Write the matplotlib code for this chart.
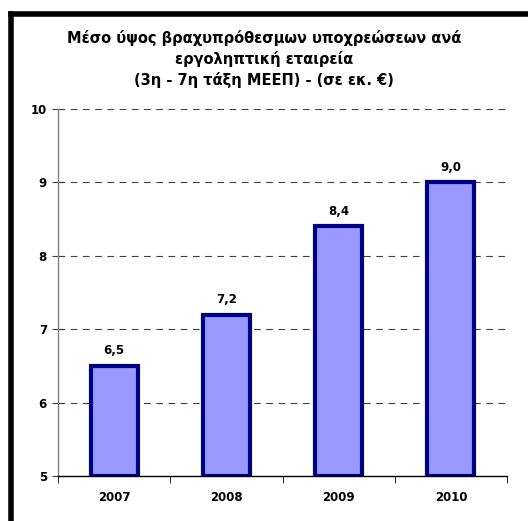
import matplotlib
matplotlib.use("Agg")
import matplotlib.pyplot as plt
from matplotlib.lines import Line2D

years = ["2007", "2008", "2009", "2010"]
values = [6.5, 7.2, 8.4, 9.0]
value_labels = ["6,5", "7,2", "8,4", "9,0"]
yticks = [5, 6, 7, 8, 9, 10]
title = "Μέσο ύψος βραχυπρόθεσμων υποχρεώσεων ανά\nεργοληπτική εταιρεία\n(3η - 7η τάξη ΜΕΕΠ) - (σε εκ. €)"

fig = plt.figure(figsize=(5.28, 5.21), dpi=100)
W, H = 528, 521
ax = fig.add_axes([58 / W, 1 - 476 / H, (507 - 58) / W, (476 - 109) / H])

x = list(range(len(years)))
ax.bar(x, [v - 5 for v in values], bottom=5, width=0.42, color="#9999FF",
       edgecolor="#000080", linewidth=3, zorder=3)
for xi, v, lab in zip(x, values, value_labels):
    ax.text(xi, v + 0.12, lab, ha="center", va="bottom", fontsize=8.5,
            fontweight="bold", zorder=4)

ax.set_xlim(-0.5, 3.5)
ax.set_ylim(5, 10)
ax.set_yticks(yticks)
ax.set_yticklabels([str(t) for t in yticks], fontsize=8.5, fontweight="bold")
ax.set_xticks(x)
ax.set_xticklabels(years, fontsize=8.5, fontweight="bold")
ax.set_xticks([-0.5, 0.5, 1.5, 2.5, 3.5], minor=True)
ax.tick_params(axis="x", which="major", length=0, pad=11)
ax.tick_params(axis="x", which="minor", length=5, direction="out", color="black")
ax.tick_params(axis="y", which="major", length=8, direction="inout", color="#404040", pad=4)

for t in yticks[1:]:
    ax.axhline(t, color="#404040", linestyle=(0, (6, 5)), linewidth=0.8, zorder=1)

for s in ["top", "right"]:
    ax.spines[s].set_visible(False)
ax.spines["left"].set_color("#808080")
ax.spines["bottom"].set_color("black")
ax.spines["left"].set_linewidth(1)
ax.spines["bottom"].set_linewidth(1)

fig.text(264 / W, 1 - 30 / H, title, ha="center", va="top",
         fontsize=10.5, fontweight="bold", linespacing=1.4)

# outer frame (clipped at right and bottom)
fig.add_artist(Line2D([11 / W, 11 / W], [0, 1 - 13.5 / H], color="black", linewidth=4,
                      transform=fig.transFigure, solid_capstyle="projecting"))
fig.add_artist(Line2D([11 / W, 1], [1 - 13.5 / H, 1 - 13.5 / H], color="black", linewidth=4,
                      transform=fig.transFigure, solid_capstyle="projecting"))

fig.savefig("out.png", dpi=100)
